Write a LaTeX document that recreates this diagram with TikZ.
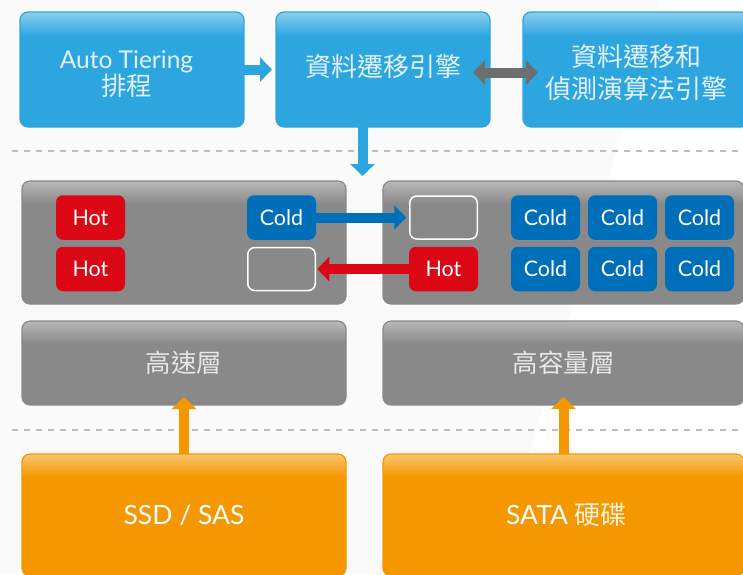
\documentclass[tikz,border=0pt]{standalone}
\usepackage{fontspec}
\setmainfont{Lato}
\newfontfamily\cjk{Noto Sans CJK TC}
\usetikzlibrary{arrows.meta}
\definecolor{pagebg}{HTML}{FAFAFB}
\definecolor{skyb}{HTML}{2DA6E0}
\definecolor{skyt}{HTML}{8CCEEE}
\definecolor{orgb}{HTML}{F59800}
\definecolor{orgt}{HTML}{F9C56F}
\definecolor{gryb}{HTML}{898989}
\definecolor{gryt}{HTML}{B8B8B8}
\definecolor{hotc}{HTML}{DC0714}
\definecolor{coldc}{HTML}{006FB9}
\definecolor{arrowgray}{HTML}{6E6E6E}
\definecolor{dashc}{HTML}{BDBDBD}
\definecolor{softsky}{HTML}{E2F2FB}
\definecolor{softgray}{HTML}{E6E6E6}
\definecolor{softorg}{HTML}{FFF1DC}
\pgfdeclareverticalshading{skyshade}{100bp}{color(0bp)=(skyb); color(64.6bp)=(skyb); color(75bp)=(skyt); color(100bp)=(skyt)}
\pgfdeclareverticalshading{panelshade}{100bp}{color(0bp)=(gryb); color(65.6bp)=(gryb); color(75bp)=(gryt); color(100bp)=(gryt)}
\pgfdeclareverticalshading{layershade}{100bp}{color(0bp)=(gryb); color(61.3bp)=(gryb); color(75bp)=(gryt); color(100bp)=(gryt)}
\pgfdeclareverticalshading{orgshade}{100bp}{color(0bp)=(orgb); color(65.6bp)=(orgb); color(75bp)=(orgt); color(100bp)=(orgt)}
\tikzset{
  gloss/.style={line width=1.2pt,rounded corners=8pt,inner sep=0pt,outer sep=0pt,align=center},
  skybox/.style={gloss,draw=skyb,shade,shading=skyshade,text=softsky,minimum height=115pt,
    font=\cjk\fontsize{26}{32}\selectfont},
  panelbox/.style={gloss,draw=gryb,shade,shading=panelshade,minimum height=123pt},
  layerbox/.style={gloss,draw=gryb,shade,shading=layershade,text=softgray,minimum height=84pt,
    font=\cjk\fontsize{25.5}{30}\selectfont},
  orangebox/.style={gloss,draw=orgb,shade,shading=orgshade,text=white,minimum height=122pt,
    font=\fontsize{26.5}{32}\selectfont},
  chip/.style={rounded corners=7pt,inner sep=0pt,outer sep=0pt,minimum width=69pt,minimum height=44.5pt,
    text=white,font=\fontsize{21.5}{24}\selectfont},
  hotchip/.style={chip,fill=hotc},
  coldchip/.style={chip,fill=coldc},
  emptychip/.style={chip,draw=white,line width=1.5pt,minimum width=67.5pt,minimum height=43pt},
  fatarrow/.style={line width=10pt,-{Triangle[length=12pt,width=24pt]}},
  sepline/.style={draw=dashc,line width=1.4pt,dash pattern=on 6pt off 6pt}
}
\begin{document}
\begin{tikzpicture}[x=1pt,y=-1pt]
\useasboundingbox (0,0) rectangle (743,574);
\fill[pagebg] (0,0) rectangle (743,574);
\fill[white] (660,0) -- (743,0) -- (743,574) -- (495,574) -- cycle;
% separators
\coordinate (s1a) at (12,151); \coordinate (s1b) at (743,151);
\coordinate (s2a) at (12,430); \coordinate (s2b) at (743,430);
\draw[sepline] (s1a) -- (s1b);
\draw[sepline] (s2a) -- (s2b);
% top row
\node[skybox,minimum width=224pt] (sched) at (132,69.5) {\rule{0pt}{27pt}\fontspec{Lato}\fontsize{24.5}{27}\selectfont Auto Tiering\kern11pt\\[-5pt]{\cjk\fontsize{25.5}{27}\selectfont 排程\kern11pt}};
\node[skybox,minimum width=214pt] (engine) at (383,69.5) {\rule[-7pt]{0pt}{7pt}資料遷移引擎};
\node[skybox,minimum width=226pt] (algo) at (636,69.5) {\rule{0pt}{28pt}資料遷移和\\偵測演算法引擎};
% tier panels
\node[panelbox,minimum width=324pt] (panelL) at (184,242.5) {};
\node[panelbox,minimum width=361pt] (panelR) at (563.5,242.5) {};
\node[layerbox,minimum width=324pt] (fast) at (184,363) {高速層};
\node[layerbox,minimum width=361pt] (cap) at (563.5,363) {高容量層};
% disks
\node[orangebox,minimum width=324pt] (ssd) at (184,515) {SSD / SAS};
\node[orangebox,minimum width=361pt] (sata) at (563.5,515) {\hspace*{6pt}SATA {\cjk\fontsize{26}{30}\selectfont\color{softorg}硬碟}};
% chips
\node[hotchip] (h1) at (90.5,217.5) {Hot};
\node[hotchip] (h2) at (90.5,269) {Hot};
\node[coldchip] (c0) at (281.5,217.5) {Cold};
\node[emptychip] (e0) at (281.5,269) {};
\node[emptychip] (e1) at (443.5,217.5) {};
\node[hotchip] (h3) at (443.5,269) {Hot};
\node[coldchip] (c1) at (545.5,217.5) {Cold};
\node[coldchip] (c2) at (622.5,217.5) {Cold};
\node[coldchip] (c3) at (699.5,217.5) {Cold};
\node[coldchip] (c4) at (545.5,269) {Cold};
\node[coldchip] (c5) at (622.5,269) {Cold};
\node[coldchip] (c6) at (699.5,269) {Cold};
% connectors
\draw[fatarrow,draw=skyb,shorten >=4pt] (sched.east) -- (engine.west);
\draw[line width=10pt,draw=arrowgray,{Triangle[length=12pt,width=24pt]}-{Triangle[length=12pt,width=24pt]},shorten <=-17pt,shorten >=-15pt] (engine.east |- 0,72.5) -- (algo.west |- 0,72.5);
\coordinate (downfrom) at (362.5,127);
\coordinate (downto) at (362.5,176);
\draw[fatarrow,draw=skyb] (downfrom) -- (downto);
\draw[fatarrow,draw=coldc,shorten >=3.5pt] (c0) -- (e1);
\draw[fatarrow,draw=hotc,shorten >=2pt] (h3) -- (e0);
\draw[fatarrow,draw=orgb,shorten >=-8pt] (ssd.north) -- (fast.south);
\draw[fatarrow,draw=orgb,shorten >=-8pt] (sata.north) -- (cap.south);
\end{tikzpicture}
\end{document}
